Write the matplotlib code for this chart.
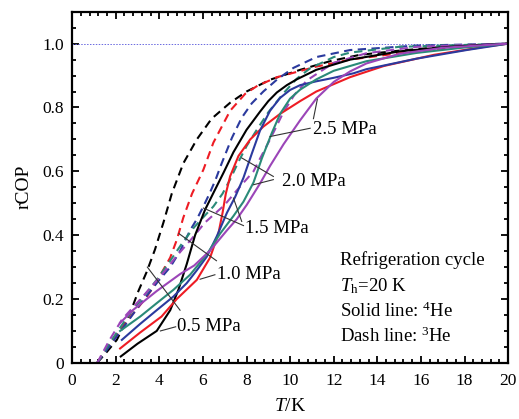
import matplotlib
matplotlib.use('Agg')
import matplotlib.pyplot as plt
from matplotlib.ticker import MultipleLocator, AutoMinorLocator

plt.rcParams['font.family'] = 'Liberation Serif'
plt.rcParams['mathtext.fontset'] = 'custom'
plt.rcParams['mathtext.rm'] = 'Liberation Serif'
plt.rcParams['mathtext.it'] = 'Liberation Serif:italic'

# 4He (solid) and 3He (dashed) curves, T in K vs rCOP
x_he4_05 = [2.23, 3.0, 3.88, 4.5, 4.88, 5.26, 5.64, 6.1, 6.5, 6.94, 7.4, 8.0, 8.62, 9.0, 9.39, 9.85, 10.3, 11.2, 12.75, 15.05, 17.3, 20]
y_he4_05 = [0.02, 0.06, 0.10, 0.165, 0.23, 0.31, 0.40, 0.48, 0.535, 0.595, 0.66, 0.73, 0.787, 0.82, 0.847, 0.87, 0.888, 0.918, 0.95, 0.976, 0.99, 1.0]
x_he3_05 = [1.15, 1.6, 2.05, 2.66, 3.04, 3.42, 3.8, 4.19, 4.57, 5.1, 5.72, 6.4, 7.25, 8.0, 9.08, 10.46, 11.83, 13.2, 15, 17, 20]
y_he3_05 = [0.0, 0.035, 0.072, 0.156, 0.225, 0.285, 0.355, 0.44, 0.53, 0.625, 0.70, 0.765, 0.815, 0.85, 0.887, 0.918, 0.945, 0.965, 0.978, 0.99, 1.0]

x_he4_10 = [2.2, 3.12, 4.1, 4.8, 5.72, 6.33, 6.71, 6.9, 7.05, 7.25, 7.63, 8.17, 8.77, 9.54, 10.46, 11.2, 12.75, 14.3, 16.6, 18.9, 20]
y_he4_10 = [0.045, 0.095, 0.145, 0.2, 0.26, 0.33, 0.405, 0.47, 0.53, 0.585, 0.648, 0.70, 0.74, 0.78, 0.82, 0.85, 0.895, 0.93, 0.965, 0.99, 1.0]
x_he3_10 = [1.15, 1.8, 2.5, 3.35, 3.8, 4.5, 4.8, 5.1, 5.5, 6.02, 6.48, 7.25, 7.94, 8.5, 9.4, 10.5, 11.2, 12.75, 15, 17, 20]
y_he3_10 = [0.0, 0.065, 0.13, 0.2, 0.245, 0.33, 0.385, 0.455, 0.53, 0.605, 0.69, 0.79, 0.843, 0.868, 0.895, 0.915, 0.928, 0.95, 0.97, 0.985, 1.0]

x_he4_15 = [2.28, 3.12, 3.88, 4.65, 5.26, 5.72, 6.18, 6.64, 7.1, 7.48, 7.86, 8.24, 8.62, 9.08, 9.54, 10.0, 10.46, 11.2, 12.0, 12.9, 13.5, 15.8, 18.1, 20]
y_he4_15 = [0.072, 0.122, 0.165, 0.208, 0.25, 0.29, 0.333, 0.397, 0.47, 0.52, 0.58, 0.655, 0.728, 0.79, 0.83, 0.855, 0.87, 0.882, 0.893, 0.907, 0.92, 0.953, 0.98, 1.0]
x_he3_15 = [1.15, 1.8, 2.5, 3.3, 4.0, 4.5, 4.95, 5.41, 5.72, 6.02, 6.3, 6.57, 6.86, 7.33, 7.78, 8.24, 8.77, 9.39, 10.15, 11.2, 12.75, 15.8, 20]
y_he3_15 = [0.0, 0.06, 0.125, 0.2, 0.26, 0.3, 0.35, 0.415, 0.45, 0.49, 0.53, 0.572, 0.625, 0.705, 0.768, 0.813, 0.85, 0.887, 0.924, 0.958, 0.98, 0.994, 1.0]

x_he4_20 = [2.2, 3.12, 3.88, 4.65, 5.41, 6.18, 6.79, 7.4, 7.86, 8.32, 8.7, 9.16, 9.54, 10.0, 10.46, 11.2, 12.0, 13.5, 15.8, 18, 20]
y_he4_20 = [0.1, 0.145, 0.187, 0.229, 0.276, 0.34, 0.405, 0.46, 0.505, 0.565, 0.64, 0.72, 0.78, 0.828, 0.856, 0.888, 0.915, 0.945, 0.971, 0.988, 1.0]
x_he3_20 = [1.15, 1.7, 2.5, 3.3, 3.88, 4.5, 5.1, 5.6, 6.0, 6.48, 6.9, 7.25, 7.63, 8.01, 8.47, 9.0, 9.7, 10.3, 10.9, 12.0, 12.75, 15, 20]
y_he3_20 = [0.0, 0.06, 0.14, 0.21, 0.26, 0.32, 0.38, 0.425, 0.455, 0.49, 0.53, 0.575, 0.63, 0.68, 0.73, 0.785, 0.845, 0.89, 0.922, 0.958, 0.972, 0.99, 1.0]

x_he4_25 = [2.2, 2.8, 3.88, 4.95, 5.6, 6.33, 7.1, 7.55, 8.01, 8.62, 9.08, 9.7, 10.46, 11.2, 12.0, 12.75, 13.5, 15, 17, 20]
y_he4_25 = [0.125, 0.166, 0.225, 0.278, 0.305, 0.352, 0.415, 0.45, 0.495, 0.562, 0.617, 0.685, 0.76, 0.828, 0.88, 0.913, 0.938, 0.968, 0.987, 1.0]
x_he3_25 = [1.15, 1.7, 2.28, 3.27, 4.04, 4.8, 5.5, 6.1, 7.0, 7.55, 8.32, 8.62, 9.08, 9.69, 10.2, 10.77, 12, 13.5, 15.8, 20]
y_he3_25 = [0.0, 0.07, 0.135, 0.21, 0.27, 0.335, 0.39, 0.44, 0.495, 0.54, 0.60, 0.64, 0.70, 0.785, 0.84, 0.885, 0.94, 0.97, 0.99, 1.0]

pressures = ['0.5 MPa', '1.0 MPa', '1.5 MPa', '2.0 MPa', '2.5 MPa']
colors = ['black', '#ee1c24', '#2b3a9e', '#2a8a78', '#9b45b8']
solid_x = [x_he4_05, x_he4_10, x_he4_15, x_he4_20, x_he4_25]
solid_y = [y_he4_05, y_he4_10, y_he4_15, y_he4_20, y_he4_25]
dash_x = [x_he3_05, x_he3_10, x_he3_15, x_he3_20, x_he3_25]
dash_y = [y_he3_05, y_he3_10, y_he3_15, y_he3_20, y_he3_25]

# label positions and leader lines (data coords)
label_pos = [(4.82, 0.113), (6.64, 0.276), (7.94, 0.422), (9.62, 0.568), (11.07, 0.73)]
leaders = [
    [((4.75, 0.113), (4.05, 0.10)), ((3.45, 0.30), (4.95, 0.165))],
    [((6.55, 0.276), (5.87, 0.262)), ((4.9, 0.405), (6.62, 0.32))],
    [((7.86, 0.43), (6.02, 0.485)), ((7.78, 0.443), (7.4, 0.516))],
    [((9.23, 0.584), (7.78, 0.642)), ((9.23, 0.574), (8.32, 0.558))],
    [((10.92, 0.735), (9.08, 0.709)), ((11.07, 0.765), (11.25, 0.826))],
]

fig = plt.figure(figsize=(5.19, 4.19), dpi=100)
ax = fig.add_axes([0.139, 0.134, 0.840, 0.838])

ax.axhline(1.0, color='#6a6ae0', lw=0.7, ls=(0, (1.5, 1.5)))

for i in range(5):
    ax.plot(dash_x[i], dash_y[i], color=colors[i], lw=1.5, ls=(0, (4, 2.6)))
for i in range(5):
    ax.plot(solid_x[i], solid_y[i], color=colors[i], lw=1.5)

for i in range(5):
    for (p0, p1) in leaders[i]:
        ax.plot([p0[0], p1[0]], [p0[1], p1[1]], color='#333333', lw=0.8)
    ax.text(label_pos[i][0], label_pos[i][1], pressures[i], fontsize=13.5,
            ha='left', va='center')

notes = ['Refrigeration cycle', r'$\mathit{T}_{\mathrm{h}}$=20 K',
         r'Solid line: $^{4}$He', r'Dash line: $^{3}$He']
note_y = [0.323, 0.239, 0.161, 0.082]
for t, yy in zip(notes, note_y):
    ax.text(12.3, yy, t, fontsize=13.5, ha='left', va='center')

ax.set_xlim(0, 20)
ax.set_ylim(0, 1.1)
ax.xaxis.set_major_locator(MultipleLocator(2))
ax.xaxis.set_minor_locator(AutoMinorLocator(5))
ax.set_yticks([0, 0.2, 0.4, 0.6, 0.8, 1.0])
ax.set_yticklabels(['0', '0.2', '0.4', '0.6', '0.8', '1.0'])
ax.yaxis.set_minor_locator(AutoMinorLocator(4))
ax.tick_params(which='both', direction='in', top=True, right=True, labelsize=12.5, width=1.3)
ax.tick_params(which='major', length=5)
ax.tick_params(which='minor', length=3)
ax.tick_params(axis='x', pad=7)
ax.tick_params(axis='y', pad=6)
for s in ax.spines.values():
    s.set_linewidth(1.6)

ax.set_xlabel(r'$\mathit{T}$/K', fontsize=14, labelpad=7)
ax.set_ylabel('rCOP', fontsize=14, labelpad=7)

fig.savefig('out.png', dpi=100)
